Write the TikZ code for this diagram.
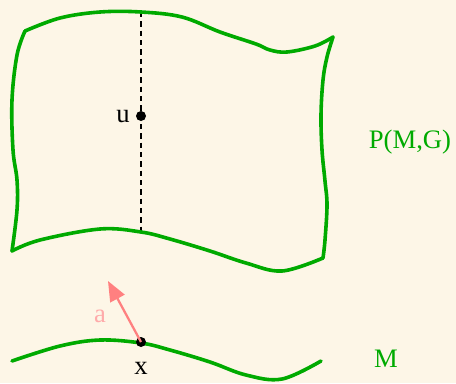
\documentclass[tikz,border=0pt]{standalone}
\usepackage{fontspec}
\setmainfont{Liberation Serif}
\usetikzlibrary{arrows.meta}
\definecolor{bg}{RGB}{253,246,231}
\definecolor{grn}{RGB}{0,170,0}
\definecolor{arr}{RGB}{255,128,128}
\definecolor{lab}{RGB}{255,170,170}
\begin{document}
\begin{tikzpicture}[x=0.75pt,y=-0.75pt,
  curve/.style={draw=grn,line width=2.7pt,line join=round,line cap=round},
  dotnode/.style={circle,fill=black,inner sep=0pt,minimum size=7.5pt},
  lbl/.style={font=\fontsize{20}{23}\selectfont,inner sep=0pt}]
\fill[bg] (0,0) rectangle (456,383);
\useasboundingbox (0,0) rectangle (456,383);
% dashed fibre
\coordinate (ftop) at (141,12);
\coordinate (fbot) at (141,232);
\draw[dashed,line width=0.8pt,dash pattern=on 4pt off 3pt] (ftop) -- (fbot);
% sheet
\draw[curve] plot[smooth,tension=0.6] coordinates {(25,31) (60,18) (100,12) (141,12) (182,17) (220,32) (256,44) (270,50) (287,52) (315,46) (333,37)};
\draw[curve] plot[smooth,tension=0.6] coordinates {(333,37) (327,57) (323,80) (321,115) (322,150) (325,181) (327,205) (325,240) (323,258)};
\draw[curve] plot[smooth,tension=0.6] coordinates {(12,251) (40,240) (100,229) (141,232) (170,239) (210,251) (246,263) (282,271) (323,258)};
\draw[curve] plot[smooth,tension=0.6] coordinates {(25,31) (17,55) (12,100) (13,150) (17,180) (17,210) (12,251)};
% base
\draw[curve] plot[smooth,tension=0.6] coordinates {(12,361) (60,346) (100,340) (141,343) (170,350) (210,362) (246,375) (282,379) (321,361)};
% points
\node[dotnode] (u) at (141,116) {};
\node[dotnode] (x) at (141,342) {};
\node[lbl,anchor=east] (ul) at (130,117) {u};
\node[lbl] (xl) at (141,368) {x};
\coordinate (tip) at (108,281);
\draw[arr,line width=1.7pt,-{Triangle[length=15pt,width=12pt]}] (x.center) -- (tip);
\node[lbl,text=lab] (al) at (100,316) {a};
\node[lbl,text=grn] (P) at (410,142) {P(M,G)};
\node[lbl,text=grn] (M) at (386,359) {M};
\end{tikzpicture}
\end{document}
